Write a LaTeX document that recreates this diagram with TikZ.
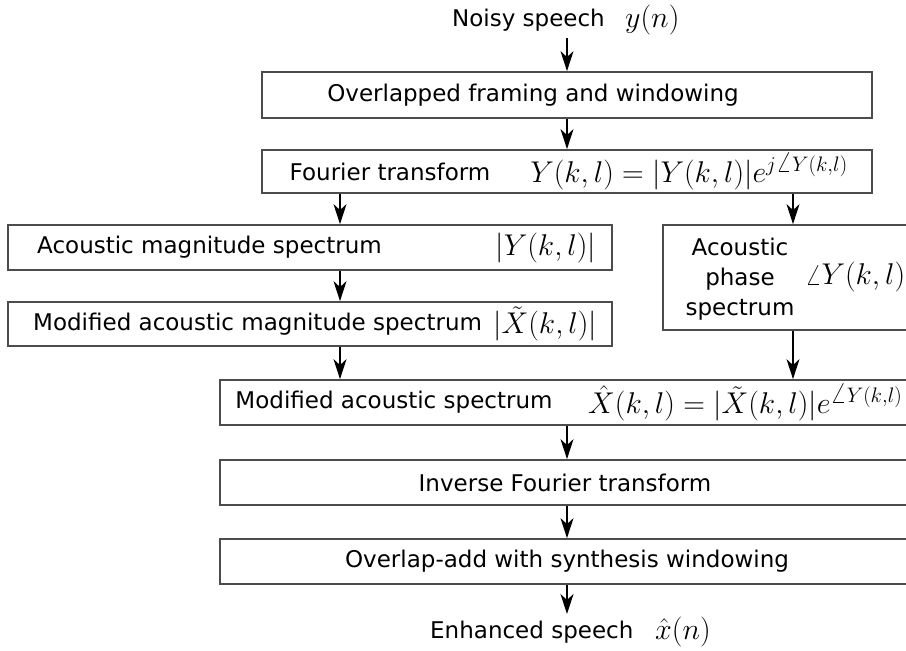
\RequirePackage{fix-cm}
\documentclass[tikz,border=0pt]{standalone}
\usepackage{fontspec}
\setmainfont{DejaVu Sans}
\usetikzlibrary{arrows.meta}
\begin{document}
\begin{tikzpicture}[x=1pt,y=-1pt,
  box/.style={draw=black!70, line width=1.8pt, rectangle, inner sep=0pt},
  lbl/.style={inner sep=0pt, font=\fontsize{23}{30}\selectfont, text=black},
  mth/.style={inner sep=0pt, font=\fontsize{30}{36}\selectfont, text=black},
  arr/.style={line width=1.1pt, -{Stealth[length=20pt,width=13pt,inset=6pt]}}]
\useasboundingbox (0,0) rectangle (906,651);
\clip (0,0) rectangle (906,651);
% boxes
\node[box, minimum width=610pt, minimum height=46pt] (b1) at (567,95) {};
\node[box, minimum width=610pt, minimum height=43pt] (b2) at (567,171.5) {};
\node[box, minimum width=604pt, minimum height=45pt] (b3) at (310,247.5) {};
\node[box, minimum width=604pt, minimum height=44pt] (b4) at (310,324) {};
\node[box, minimum width=300pt, minimum height=105pt] (ph) at (813,277.5) {};
\node[box, minimum width=760pt, minimum height=45pt] (b5) at (600,402.5) {};
\node[box, minimum width=760pt, minimum height=45pt] (b6) at (600,482.5) {};
\node[box, minimum width=760pt, minimum height=45pt] (b7) at (600,561.5) {};
% texts
\node[lbl, anchor=east] (in) at (605,20) {Noisy speech};
\node[mth, anchor=west] (inm) at (625,20) {$y(n)$};
\node[lbl] (t1) at (533,95) {Overlapped framing and windowing};
\node[lbl] (t2a) at (390,171.5) {Fourier transform};
\node[mth] (t2b) at (689,171.5) {$Y(k,l)=|Y(k,l)|e^{j\angle Y(k,l)}$};
\node[lbl, anchor=west] (t3a) at (37,247.5) {Acoustic magnitude spectrum};
\node[mth, anchor=east] (t3b) at (596,247.5) {$|Y(k,l)|$};
\node[lbl, anchor=west] (t4a) at (33,324) {Modified acoustic magnitude spectrum};
\node[mth, anchor=east] (t4b) at (597,324) {$|\tilde{X}(k,l)|$};
\node[lbl, align=center] (tpa) at (740,279) {Acoustic\\phase\\spectrum};
\node[mth, anchor=west] (tpb) at (805,277) {$\angle Y(k,l)$};
\node[lbl] (t5a) at (394,402.5) {Modified acoustic spectrum};
\node[mth, anchor=west] (t5b) at (588,402.5) {$\hat{X}(k,l)=|\tilde{X}(k,l)|e^{\angle Y(k,l)}$};
\node[lbl] (t6) at (565,482.5) {Inverse Fourier transform};
\node[lbl] (t7) at (567,561.5) {Overlap-add with synthesis windowing};
\node[lbl, anchor=west] (out) at (430,632) {Enhanced speech};
\node[mth, anchor=west] (outm) at (655,632) {$\hat{x}(n)$};
% arrows
\draw[arr] (567,38) -- (b1.north -| 567,0);
\draw[arr] (b1.south -| 567,0) -- (b2.north -| 567,0);
\draw[arr] (b2.south -| 340,0) -- (b3.north -| 340,0);
\draw[arr] (b2.south -| 793,0) -- (ph.north -| 793,0);
\draw[arr] (b3.south -| 340,0) -- (b4.north -| 340,0);
\draw[arr] (b4.south -| 340,0) -- (b5.north -| 340,0);
\draw[arr] (ph.south -| 793,0) -- (b5.north -| 793,0);
\draw[arr] (b5.south -| 567,0) -- (b6.north -| 567,0);
\draw[arr] (b6.south -| 567,0) -- (b7.north -| 567,0);
\draw[arr] (b7.south -| 567,0) -- (567,614);
\end{tikzpicture}
\end{document}
